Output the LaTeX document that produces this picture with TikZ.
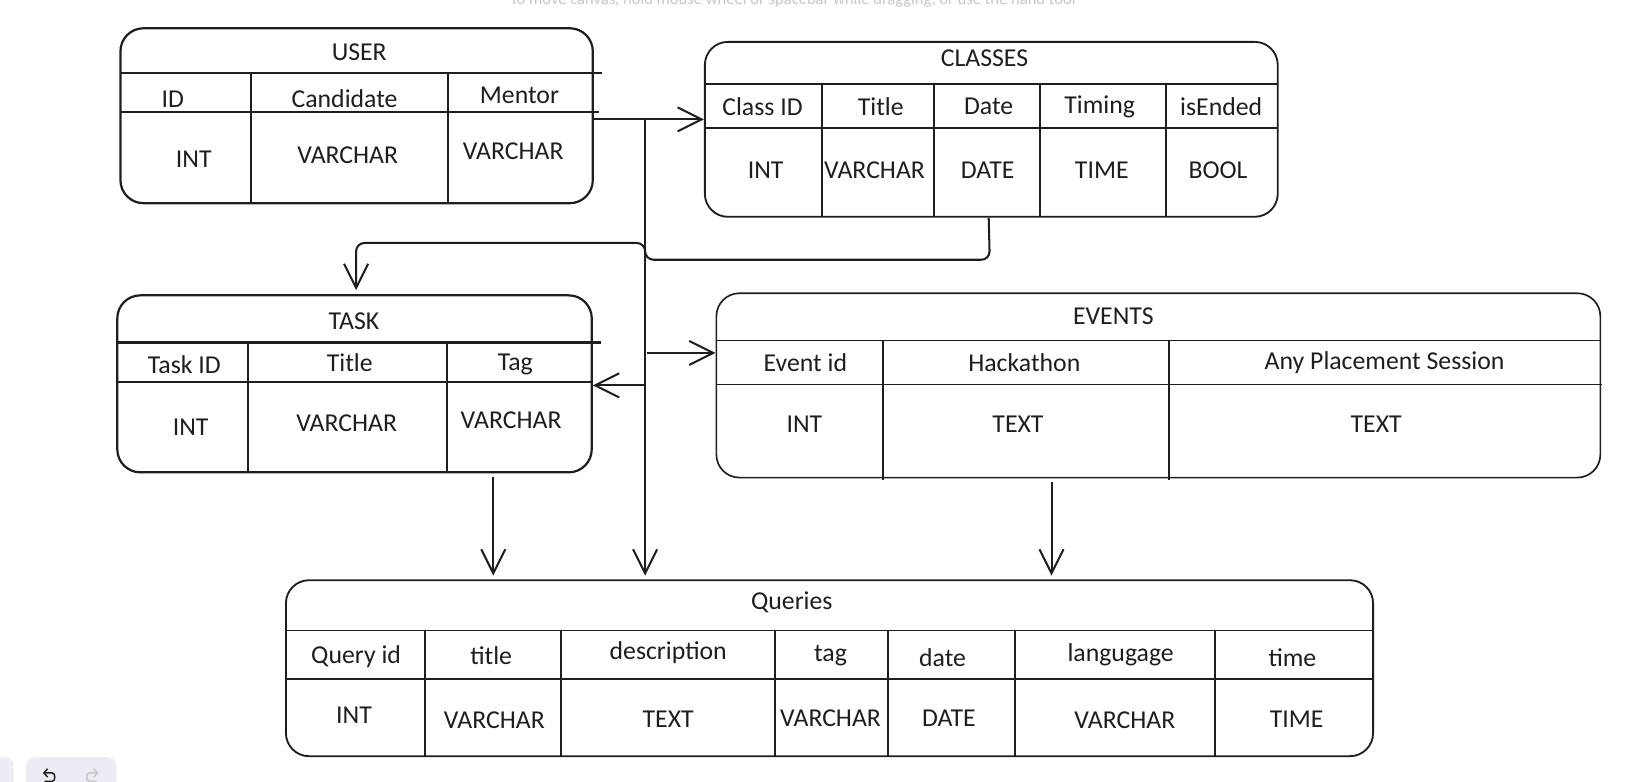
\documentclass[tikz,border=0pt]{standalone}
\usepackage{fontspec}
\setmainfont{Carlito}
\usetikzlibrary{arrows.meta,calc,positioning,fit}

\definecolor{ink}{HTML}{1E1E1E}
\definecolor{uibtn}{HTML}{ECECF4}

\tikzset{
  tablebox/.style={draw=ink, rounded corners=0.44cm, inner sep=0pt, line width=1.2pt},
  rowline/.style={draw=ink, line width=1.2pt},
  cell/.style={font=\fontsize{14}{16}\selectfont, text=ink, inner sep=1pt},
  link/.style={draw=ink, line width=1.1pt, -{Straight Barb[length=0.46cm, width=0.46cm, line width=1.1pt]}},
}

\begin{document}
\begin{tikzpicture}[x=0.02cm, y=-0.02cm]
  \useasboundingbox (0,0) rectangle (1563,746);

  % canvas hint, cut at the top edge
  \node[anchor=base, text=gray!45, font=\fontsize{9}{10}\selectfont] (hint) at (757,4.5)
    {To move canvas, hold mouse wheel or spacebar while dragging, or use the hand tool};

  % USER table
  \node[tablebox, fit={(115,27) (566,194)}] (user) {};
  \draw[rowline] (115,70) -- (575,70);
  \draw[rowline] (115,107) -- (572,107);
  \foreach \x in {240,428} {
    \draw[rowline] (\x,70) -- (\x,194);
  }
  \node[cell] (user-title) at (343,50) {USER};
  \foreach \n/\xa/\ya/\lab/\xb/\yb/\typ in {id/165/95/ID/185/152/INT,
      cand/329/94/Candidate/332/148/VARCHAR, mentor/496/91/Mentor/490/144/VARCHAR} {
    \node[cell] (user-\n) at (\xa,\ya) {\lab};
    \node[cell] (user-\n-type) at (\xb,\yb) {\typ};
  }

  % CLASSES table
  \node[tablebox, line width=1pt, fit={(673,40) (1220,207)}] (classes) {};
  \draw[rowline, line width=1pt] (673,80) -- (1220,80);
  \draw[rowline, line width=1pt] (673,122) -- (1220,122);
  \foreach \x in {785,892,993,1113} {
    \draw[rowline, line width=1pt] (\x,80) -- (\x,207);
  }
  \node[cell] (classes-title) at (940,56) {CLASSES};
  \foreach \n/\xa/\lab/\xb/\typ in {id/728/Class ID/731/INT, title/841/Title/835/VARCHAR,
      date/944/Date/943/DATE, timing/1050/Timing/1052/TIME, ended/1166/isEnded/1163/BOOL} {
    \node[cell] (classes-\n) at (\xa,102) {\lab};
    \node[cell] (classes-\n-type) at (\xb,163) {\typ};
  }

  % TASK table
  \node[tablebox, fit={(112,282) (565,451)}] (task) {};
  \draw[rowline] (112,327) -- (574,327);
  \draw[rowline] (112,365) -- (565,365);
  \foreach \x in {237,427} {
    \draw[rowline] (\x,327) -- (\x,451);
  }
  \node[cell] (task-title) at (338,307) {TASK};
  \foreach \n/\xa/\ya/\lab/\xb/\yb/\typ in {id/176/348/Task ID/182/408/INT,
      name/334/346/Title/331/404/VARCHAR, tag/492/348/Tag/488/401/VARCHAR} {
    \node[cell] (task-\n) at (\xa,\ya) {\lab};
    \node[cell] (task-\n-type) at (\xb,\yb) {\typ};
  }

  % EVENTS table
  \node[tablebox, line width=0.9pt, fit={(684,280) (1528,456)}] (events) {};
  \draw[rowline, line width=0.9pt] (684,325) -- (1528,325);
  \draw[rowline, line width=0.9pt] (684,367) -- (1530,367);
  \foreach \x in {843,1116} {
    \draw[rowline, line width=0.9pt] (\x,325) -- (\x,458);
  }
  \node[cell] (events-title) at (1063,302) {EVENTS};
  \foreach \n/\xa/\lab/\xb/\typ in {id/769/Event id/768/INT, hack/978/Hackathon/972/TEXT,
      place/1322/Any Placement Session/1314/TEXT} {
    \node[cell] (events-\n) at (\xa,346) {\lab};
    \node[cell] (events-\n-type) at (\xb,405) {\typ};
  }

  % Queries table
  \node[tablebox, line width=1pt, fit={(273,554) (1311,722)}] (queries) {};
  \draw[rowline, line width=1pt] (273,602) -- (1311,602);
  \draw[rowline, line width=1pt] (273,648) -- (1311,648);
  \foreach \x in {406,536,740,848,969,1160} {
    \draw[rowline, line width=1pt] (\x,602) -- (\x,722);
  }
  \node[cell] (queries-title) at (756,575) {Queries};
  \foreach \n/\xa/\ya/\lab/\xb/\yb/\typ in {id/340/627/Query id/338/683/INT,
      title/469/626/title/472/688/VARCHAR, desc/638/623/description/638/687/TEXT,
      tag/793/626/tag/793/686/VARCHAR, date/900/628/date/906/686/DATE,
      lang/1070/625/langugage/1074/688/VARCHAR, time/1234/628/time/1238/687/TIME} {
    \node[cell] (queries-\n) at (\xa,\ya) {\lab};
    \node[cell] (queries-\n-type) at (\xb,\yb) {\typ};
  }

  % connectors
  \coordinate (bus-top) at (616,114);
  \coordinate (bus-events) at (618,337);
  \coordinate (bus-task) at (616,368);
  \draw[link] (user.east |- bus-top) -- (classes.west |- bus-top);
  \draw[link, shorten >=2] (bus-top) -- (bus-top |- queries.north);
  \draw[link] (bus-events) -- (bus-events -| events.west);
  \draw[link] (bus-task) -- (bus-task -| task.east);
  \draw[link, rounded corners=0.16cm] (classes.south -| classes-date)
    -- (945,248) -- (616,248) -- (616,232) -- (340,232) -- (340,277);
  \draw[link, shorten >=2] (471,455) -- (queries.north -| 471,0);
  \draw[link, shorten >=2] (1004,460) -- (queries.north -| 1004,0);

  % editor buttons at the lower left
  \fill[uibtn, rounded corners=0.16cm] (-20,723) rectangle (13,770);
  \fill[uibtn, rounded corners=0.16cm] (25,723) rectangle (111,770);
  \draw[ink, line width=0.8pt, line cap=round, -{Straight Barb[length=2pt, width=4.5pt]}]
    (43,746) -- (50,746) to[out=0, in=0] (50,738) -- (41,738);
  \draw[gray!45, line width=0.8pt, line cap=round, -{Straight Barb[length=2pt, width=4.5pt]}]
    (92,746) -- (85,746) to[out=180, in=180] (85,738) -- (94,738);
\end{tikzpicture}
\end{document}
